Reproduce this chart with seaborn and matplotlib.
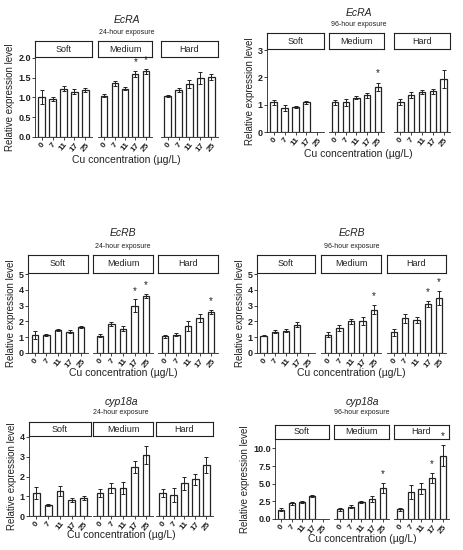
import numpy as np
import pandas as pd
import matplotlib
matplotlib.use("Agg")
import matplotlib.pyplot as plt
import seaborn as sns

# ---- data ----
concs = ["0", "7", "11", "17", "25"]
waters = ["Soft", "Medium", "Hard"]

genes = ["EcRA", "EcRA", "EcRB", "EcRB", "cyp18a", "cyp18a"]
exposures = ["24-hour exposure", "96-hour exposure"] * 3

# values are Soft(0..25), Medium(0..25), Hard(0..25); nan = no bar
ecra24_mean = [1.02, 0.97, 1.22, 1.15, 1.18, 1.05, 1.36, 1.22, 1.60, 1.66, 1.03, 1.20, 1.35, 1.50, 1.52]
ecra24_se = [0.18, 0.05, 0.06, 0.07, 0.05, 0.03, 0.06, 0.04, 0.08, 0.07, 0.03, 0.05, 0.10, 0.15, 0.08]
ecra24_sig = [0, 0, 0, 0, 0, 0, 0, 0, 1, 1, 0, 0, 0, 0, 0]

ecra96_mean = [1.08, 0.87, 0.91, 1.09, np.nan, 1.08, 1.08, 1.26, 1.34, 1.66, 1.09, 1.36, 1.46, 1.49, 1.94]
ecra96_se = [0.10, 0.10, 0.05, 0.06, np.nan, 0.10, 0.12, 0.05, 0.10, 0.15, 0.10, 0.12, 0.06, 0.10, 0.33]
ecra96_sig = [0, 0, 0, 0, 0, 0, 0, 0, 0, 1, 0, 0, 0, 0, 0]

ecrb24_mean = [1.15, 1.15, 1.45, 1.35, 1.65, 1.10, 1.85, 1.55, 3.00, 3.60, 1.05, 1.15, 1.70, 2.20, 2.60]
ecrb24_se = [0.25, 0.08, 0.08, 0.10, 0.08, 0.10, 0.12, 0.15, 0.40, 0.15, 0.08, 0.10, 0.30, 0.25, 0.15]
ecrb24_sig = [0, 0, 0, 0, 0, 0, 0, 0, 1, 1, 0, 0, 0, 0, 1]

ecrb96_mean = [1.10, 1.35, 1.42, 1.80, np.nan, 1.15, 1.60, 2.00, 2.02, 2.75, 1.30, 2.20, 2.10, 3.10, 3.50]
ecrb96_se = [0.05, 0.10, 0.10, 0.15, np.nan, 0.15, 0.20, 0.15, 0.25, 0.30, 0.20, 0.30, 0.20, 0.20, 0.45]
ecrb96_sig = [0, 0, 0, 0, 0, 0, 0, 0, 0, 1, 0, 0, 0, 1, 1]

cyp24_mean = [1.15, 0.58, 1.28, 0.80, 0.90, 1.15, 1.40, 1.40, 2.50, 3.10, 1.15, 1.05, 1.65, 1.85, 2.60]
cyp24_se = [0.30, 0.05, 0.25, 0.10, 0.10, 0.20, 0.25, 0.30, 0.30, 0.45, 0.20, 0.35, 0.35, 0.28, 0.40]
cyp24_sig = [0] * 15

cyp96_mean = [1.30, 2.20, 2.40, 3.30, np.nan, 1.35, 1.75, 2.40, 2.80, 4.40, 1.35, 3.80, 4.30, 5.80, 9.00]
cyp96_se = [0.20, 0.15, 0.20, 0.15, np.nan, 0.20, 0.25, 0.20, 0.40, 0.70, 0.20, 1.00, 0.80, 0.70, 1.50]
cyp96_sig = [0, 0, 0, 0, 0, 0, 0, 0, 0, 1, 0, 0, 0, 1, 1]

means = [ecra24_mean, ecra96_mean, ecrb24_mean, ecrb96_mean, cyp24_mean, cyp96_mean]
ses = [ecra24_se, ecra96_se, ecrb24_se, ecrb96_se, cyp24_se, cyp96_se]
sigs = [ecra24_sig, ecra96_sig, ecrb24_sig, ecrb96_sig, cyp24_sig, cyp96_sig]

y_tops = [2.0, 3.0, 5.0, 5.0, 4.0, 11.2]
y_steps = [0.5, 1, 1, 1, 1, 2.5]
y_fmts = ["{:.1f}", "{:.0f}", "{:.0f}", "{:.0f}", "{:.0f}", "{:.1f}"]

# ---- layout in pixels of the 464x550 canvas ----
W, H = 464, 550
layouts = [
    dict(facets=[(35, 92), (98, 152), (161, 218)], top=58, bot=137, strip=41, title=20, sub=32, xlab=160),
    dict(facets=[(267, 324), (329, 384), (394, 450)], top=50, bot=132, strip=33, title=13, sub=25, xlab=154),
    dict(facets=[(28, 88), (93, 153), (158, 218)], top=274, bot=353, strip=255, title=233, sub=246, xlab=373),
    dict(facets=[(257, 315), (321, 381), (387, 446)], top=274, bot=353, strip=255, title=233, sub=246, xlab=373),
    dict(facets=[(29, 91), (93, 153), (156, 213)], top=437, bot=516, strip=422, title=402, sub=413, xlab=535),
    dict(facets=[(275, 329), (334, 389), (394, 449)], top=440, bot=519, strip=425, title=402, sub=413, xlab=539),
]

sns.set_style("ticks")
plt.rcParams["font.family"] = ["Liberation Sans", "DejaVu Sans"]
ink = "#222222"

fig = plt.figure(figsize=(W / 100, H / 100), dpi=100)

for p, lay in enumerate(layouts):
    top, bot = lay["top"], lay["bot"]
    ymax = y_tops[p]
    for j, (x0, x1) in enumerate(lay["facets"]):
        # facet strip (drawn first so the bar panel sits above it)
        sax = fig.add_axes([x0 / W, 1 - (top - 1) / H, (x1 - x0) / W, (top - 1 - lay["strip"]) / H])
        sax.set_xticks([])
        sax.set_yticks([])
        for sp in sax.spines.values():
            sp.set_linewidth(0.8)
            sp.set_color(ink)
        sax.text(0.5, 0.5, waters[j], ha="center", va="center", fontsize=6.5, color=ink,
                 transform=sax.transAxes)

        ax = fig.add_axes([x0 / W, 1 - bot / H, (x1 - x0) / W, (bot - top) / H])
        ax.patch.set_alpha(0)
        m = means[p][j * 5:(j + 1) * 5]
        s = ses[p][j * 5:(j + 1) * 5]
        g = sigs[p][j * 5:(j + 1) * 5]
        df = pd.DataFrame({"conc": concs, "mean": m, "se": s})
        sns.barplot(data=df, x="conc", y="mean", order=concs, color="white",
                    saturation=1, edgecolor=ink, linewidth=0.9, width=0.58,
                    errorbar=None, ax=ax)
        ax.errorbar(np.arange(5), df["mean"], yerr=df["se"], fmt="none",
                    ecolor=ink, elinewidth=0.7, capsize=1.5, capthick=0.7)
        for i in range(5):
            if g[i]:
                ax.text(i, m[i] + s[i] + 0.11 * ymax, "*", ha="center", va="center",
                        fontsize=7, color=ink, clip_on=False)
        ax.set_xlim(-0.6, 4.6)
        ax.set_ylim(0, ymax)
        ax.set_xlabel("")
        ax.set_ylabel("")
        ax.tick_params(axis="x", length=2, width=0.6, pad=1, colors=ink)
        ax.set_xticks(range(5))
        ax.set_xticklabels(concs, rotation=50, ha="center", va="top",
                           fontsize=6, fontweight="bold")
        ax.spines["top"].set_visible(False)
        ax.spines["right"].set_visible(False)
        ax.spines["bottom"].set_linewidth(0.6)
        ax.spines["bottom"].set_color(ink)
        if j == 0:
            ticks = np.arange(0, ymax + 1e-6, y_steps[p])
            ax.set_yticks(ticks)
            ax.set_yticklabels([y_fmts[p].format(t) for t in ticks],
                               fontsize=6.5, fontweight="bold")
            ax.tick_params(axis="y", length=2, width=0.6, pad=1, colors=ink)
            ax.spines["left"].set_linewidth(0.6)
            ax.spines["left"].set_color(ink)
            ax.set_ylabel("Relative expression level", fontsize=7, labelpad=2, color=ink)
        else:
            ax.set_yticks([])
            ax.spines["left"].set_visible(False)

    xc = (lay["facets"][0][0] + lay["facets"][2][1]) / 2 / W
    fig.text(xc, 1 - lay["title"] / H, genes[p], ha="center", va="center",
             fontsize=7.5, style="italic", color=ink)
    fig.text(xc, 1 - lay["sub"] / H, exposures[p], ha="center", va="center",
             fontsize=5, color=ink)
    fig.text(xc, 1 - lay["xlab"] / H, "Cu concentration (\u00b5g/L)", ha="center",
             va="center", fontsize=7.5, color=ink)

fig.savefig("out.png", dpi=100)
